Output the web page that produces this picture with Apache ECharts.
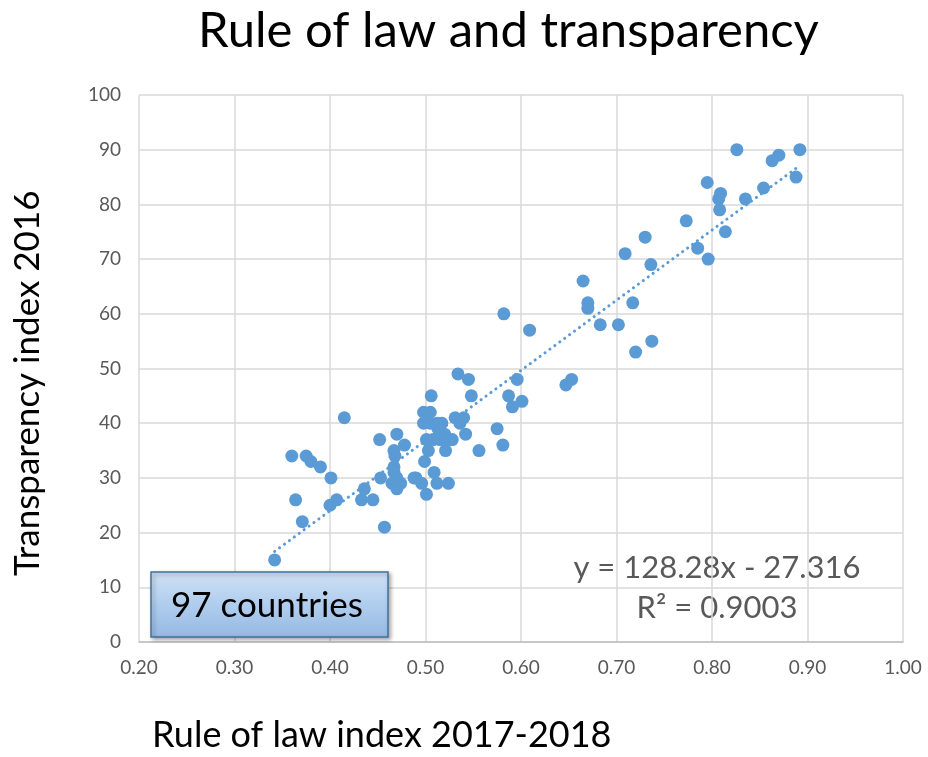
<!DOCTYPE html>
<html>
<head>
<meta charset="utf-8">
<script src="https://cdn.jsdelivr.net/npm/echarts@6/dist/echarts.min.js"></script>
<style>
  html, body { margin: 0; padding: 0; background: #fff; }
  #chart { width: 928px; height: 757px; }
</style>
</head>
<body>
<div id="chart"></div>
<script>
// rule of law index (x) and transparency index (y)
const ruleOfLaw = [
  0.342, 0.364, 0.371, 0.360, 0.375, 0.380, 0.390, 0.401, 0.400, 0.407,
  0.415, 0.436, 0.433, 0.445, 0.457, 0.452, 0.453, 0.470, 0.478, 0.467,
  0.468, 0.467, 0.467, 0.470, 0.470, 0.474, 0.488, 0.496, 0.499, 0.509,
  0.512, 0.524, 0.501, 0.498, 0.505, 0.498, 0.512, 0.517, 0.531, 0.536,
  0.542, 0.501, 0.508, 0.519, 0.528, 0.520, 0.503, 0.521, 0.506, 0.534,
  0.545, 0.548, 0.556, 0.575, 0.581, 0.582, 0.587, 0.591, 0.596, 0.601,
  0.609, 0.647, 0.653, 0.665, 0.670, 0.670, 0.683, 0.702, 0.709, 0.717,
  0.720, 0.730, 0.736, 0.737, 0.773, 0.785, 0.796, 0.795, 0.809, 0.807,
  0.808, 0.814, 0.826, 0.835, 0.854, 0.863, 0.870, 0.888, 0.892, 0.513,
  0.525, 0.470, 0.505, 0.465, 0.540, 0.490, 0.515
];
const transparency = [
  15, 26, 22, 34, 34, 33, 32, 30, 25, 26,
  41, 28, 26, 26, 21, 37, 30, 38, 36, 35,
  34, 32, 31, 29, 28, 29, 30, 29, 33, 31,
  29, 29, 27, 42, 42, 40, 40, 40, 41, 40,
  38, 37, 37, 37, 37, 38, 35, 35, 45, 49,
  48, 45, 35, 39, 36, 60, 45, 43, 48, 44,
  57, 47, 48, 66, 62, 61, 58, 58, 71, 62,
  53, 74, 69, 55, 77, 72, 70, 84, 82, 81,
  79, 75, 90, 81, 83, 88, 89, 85, 90, 39,
  37, 30, 40, 29, 41, 30, 37
];

// trendline from the fitted equation shown on the chart
const slope = 128.28;
const intercept = -27.316;
const rSquared = '0.9003';

const xTicks = [0.2, 0.3, 0.4, 0.5, 0.6, 0.7, 0.8, 0.9, 1.0];
const yTicks = [0, 10, 20, 30, 40, 50, 60, 70, 80, 90, 100];

const points = ruleOfLaw.map((x, i) => [x, transparency[i]]);
const xMinData = Math.min(...ruleOfLaw);
const xMaxData = Math.max(...ruleOfLaw);
const trend = [
  [xMinData, slope * xMinData + intercept],
  [xMaxData, slope * xMaxData + intercept]
];

const chart = echarts.init(document.getElementById('chart'));
const font = 'Lato, "Open Sans", sans-serif';
const grey = '#595959';

chart.setOption({
  animation: false,
  title: {
    text: 'Rule of law and transparency',
    left: 193,
    top: 2,
    textStyle: { fontFamily: font, fontSize: 49, fontWeight: 'normal', color: '#000' }
  },
  grid: { left: 139, right: 25, top: 95, bottom: 115 },
  xAxis: {
    type: 'value',
    min: xTicks[0],
    max: xTicks[xTicks.length - 1],
    interval: 0.1,
    axisLine: { show: true, lineStyle: { color: '#bfbfbf', width: 1.5 } },
    axisTick: { show: false },
    axisLabel: {
      color: grey, fontFamily: font, fontSize: 19, margin: 16,
      formatter: v => v.toFixed(2)
    },
    splitLine: { show: true, lineStyle: { color: '#d9d9d9', width: 1.5 } }
  },
  yAxis: {
    type: 'value',
    min: yTicks[0],
    max: yTicks[yTicks.length - 1],
    interval: 10,
    axisLine: { show: false },
    axisTick: { show: false },
    axisLabel: { color: grey, fontFamily: font, fontSize: 19, margin: 18 },
    splitLine: { show: true, lineStyle: { color: '#d9d9d9', width: 1.5 } }
  },
  graphic: [
    {
      type: 'text', left: 152, top: 717,
      style: { text: 'Rule of law index 2017-2018', fontFamily: font, fontSize: 36, fill: '#000' }
    },
    {
      type: 'text', x: 10, y: 576, rotation: Math.PI / 2,
      style: { text: 'Transparency index 2016', fontFamily: font, fontSize: 35, fill: '#000' }
    },
    {
      type: 'rect', shape: { x: 151, y: 572, width: 237, height: 65 },
      style: {
        fill: new echarts.graphic.LinearGradient(0, 0, 0, 1, [
          { offset: 0, color: '#cfe1f5' },
          { offset: 0.5, color: '#b0cdee' },
          { offset: 1, color: '#95b9e2' }
        ]),
        stroke: '#41719c', lineWidth: 1.5,
        shadowColor: 'rgba(0,0,0,0.35)', shadowBlur: 4, shadowOffsetX: 2, shadowOffsetY: 2
      },
      z: 10
    },
    {
      type: 'text', x: 267, y: 606,
      style: {
        text: '97 countries', fontFamily: font, fontSize: 35, fill: '#000',
        align: 'center', verticalAlign: 'middle'
      },
      z: 11
    },
    {
      type: 'text', x: 717, y: 568,
      style: {
        text: 'y = ' + slope + 'x - ' + Math.abs(intercept), fontFamily: font, fontSize: 31,
        fill: grey, align: 'center', verticalAlign: 'middle'
      }
    },
    {
      type: 'text', x: 717, y: 608,
      style: {
        text: 'R² = ' + rSquared, fontFamily: font, fontSize: 31,
        fill: grey, align: 'center', verticalAlign: 'middle'
      }
    }
  ],
  series: [
    {
      type: 'line',
      data: trend,
      symbol: 'none',
      silent: true,
      lineStyle: { color: '#5b9bd5', width: 3, type: [0.1, 6], cap: 'round' },
      z: 2
    },
    {
      type: 'scatter',
      data: points,
      symbol: 'circle',
      symbolSize: 13,
      itemStyle: { color: '#5b9bd5', opacity: 1 },
      z: 3
    }
  ]
});
</script>
</body>
</html>
